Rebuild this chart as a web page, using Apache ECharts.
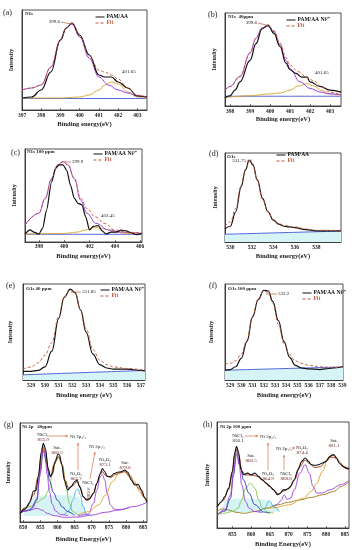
<!DOCTYPE html>
<html><head><meta charset="utf-8">
<script src="https://cdn.jsdelivr.net/npm/echarts@6/dist/echarts.min.js"></script>
<style>html,body{margin:0;padding:0;background:#fff}#c{width:355px;height:550px}</style>
</head><body><div id="c"></div>
<script>
// ---------- tick labels ----------
const aTicks = [397, 398, 399, 400, 401, 402, 403];
const bTicks = [398, 399, 400, 401, 402, 403];
const cTicks = [398, 400, 402, 404, 406];
const dTicks = [530, 532, 534, 536, 538];
const eTicks = [529, 530, 531, 532, 533, 534, 535, 536, 537];
const fTicks = [529, 530, 531, 532, 533, 534, 535, 536, 537, 538, 539];
const gTicks = [850, 855, 860, 865, 870, 875, 880, 885];
const hTicks = [855, 860, 865, 870, 875, 880, 885];

// ---------- (a) N1s PAM/AA ----------
const aDataX = [397, 397.5, 398, 398.5, 399, 399.3, 399.6, 400, 400.5, 401, 401.3, 401.65, 402, 402.5, 403, 403.5];
const aDataY = [12, 13, 20, 38, 70, 82, 87, 75, 55, 35, 33, 33, 28, 22, 14, 13];
const aFitY  = [20, 22, 25, 43, 70, 82, 87, 74, 54, 40, 38, 35, 31, 22, 15, 13];
const aP1X = [397, 397.5, 398, 398.5, 399, 399.3, 399.6, 400, 400.5, 401, 401.5, 402, 402.5, 403, 403.5];
const aP1Y = [20, 22, 25, 43, 70, 82, 86, 73, 52, 33, 25, 20, 17, 14, 13];
const aP2X = [397, 399, 400, 400.5, 401, 401.3, 401.65, 402, 402.5, 403, 403.5];
const aP2Y = [12, 12, 13, 15, 20, 25, 28, 26, 18, 13, 12];
const aBaseX = [397, 403.5];
const aBaseY = [11.5, 11.5];

// ---------- (b) N1s 40ppm ----------
const bDataX = [397.75, 398, 398.25, 398.5, 399, 399.3, 399.6, 399.9, 400.2, 400.5, 400.8, 401, 401.3, 401.6, 401.85, 402, 402.5, 403, 403.55];
const bDataY = [9, 11, 17, 26, 49, 67, 83, 87, 78, 64, 46, 39, 35, 31, 31, 26, 21, 17, 15];
const bFitX = [397.75, 398, 398.5, 399, 399.3, 399.6, 399.9, 400.2, 400.5, 400.8, 401, 401.4, 401.85, 402.2, 402.6, 403, 403.55];
const bFitY = [17, 21, 32, 57, 73, 84, 87, 81, 68, 52, 44, 37, 31, 27, 20, 15, 12];
const bP1X = [397.75, 398, 398.5, 399, 399.3, 399.6, 399.9, 400.2, 400.5, 400.8, 401, 401.5, 402, 402.5, 403, 403.55];
const bP1Y = [17, 21, 31.5, 57, 73, 83.5, 86, 80, 66, 49, 40, 26, 19, 15, 13, 12];
const bP2X = [397.75, 399, 400, 400.5, 401, 401.4, 401.85, 402.2, 402.6, 403, 403.55];
const bP2Y = [9, 11, 13, 14, 17, 21.5, 24, 21.5, 16.5, 13, 11.5];
const bBaseX = [397.75, 403.55];
const bBaseY = [10.5, 10.5];

// ---------- (c) N1s 100 ppm ----------
const cDataX = [396.9, 397.3, 397.6, 398, 398.3, 398.6, 399, 399.3, 399.6, 399.9, 400.2, 400.5, 400.8, 401.1, 401.4, 401.7, 402, 402.3, 402.7, 403, 403.3, 403.7, 404.1, 404.5, 404.9, 405.3, 405.7, 406.15];
const cDataY = [8.5, 13, 10.6, 8.5, 15, 34, 64.5, 79, 83, 83, 77, 61, 47, 41.5, 40, 27, 13, 16.7, 17.7, 12, 8.5, 10.6, 10.6, 12.8, 12, 10, 7.8, 9.2];
const cFitX = [396.9, 398, 398.5, 399, 399.5, 399.9, 400.3, 400.8, 401.3, 401.8, 402.45, 403.2, 404, 405, 406.15];
const cFitY = [18, 31, 47, 68, 83, 86, 83, 68.5, 47, 36, 27, 20, 13, 10.5, 9.5];
const cP1X = [396.9, 398, 398.5, 399, 399.5, 399.9, 400.3, 400.8, 401.3, 401.8, 402.5, 403.5, 404.5, 406.15];
const cP1Y = [18.4, 31, 47, 68, 83, 86.5, 83, 68, 45, 31, 20, 13, 10.6, 9.2];
const cP2X = [396.9, 400, 401, 401.7, 402.45, 403.2, 404, 405, 406.15];
const cP2Y = [8.5, 9.2, 10.6, 13, 15.6, 14, 10.6, 9.2, 8.5];
const cBaseX = [396.9, 406.15];
const cBaseY = [8.3, 8.3];

// ---------- (d) O1s PAM/AA ----------
const dDataX = [529.5, 530, 530.5, 531, 531.4, 531.75, 532.1, 532.5, 533, 533.5, 534, 534.5, 535, 535.5, 536, 537, 538, 539, 540.3];
const dDataY = [15, 17.7, 34, 62, 81, 92, 87, 70, 49, 34, 24.5, 20, 17.7, 17, 16.2, 14, 12.5, 12.5, 12.5];
const dFitX = [529.5, 530, 530.5, 531, 531.4, 531.75, 532.1, 532.5, 533, 533.5, 534, 534.5, 535, 536, 537, 538, 540.3];
const dFitY = [17.7, 22.6, 37.7, 64, 80, 90.5, 85.7, 69, 48, 34, 25, 20.8, 18.5, 17, 14.7, 13.2, 12.5];
const dBaseX = [529.5, 540.3];
const dBaseY = [8.7, 12.3];

// ---------- (e) O1s 40 ppm ----------
const eDataX = [528.4, 529, 529.5, 530, 530.5, 531, 531.4, 531.85, 532.2, 532.6, 533, 533.5, 534, 534.5, 535, 536, 537, 537.3];
const eDataY = [9, 9, 10, 13.6, 30, 64, 86, 94.6, 91, 73, 50, 27, 16, 12.5, 11.4, 11.4, 10, 9.6];
const eFitX = [528.4, 529, 529.5, 530, 530.5, 531, 531.4, 531.85, 532.2, 532.6, 533, 533.5, 534, 534.5, 535, 536, 537.3];
const eFitY = [11.4, 13.6, 17.9, 25.7, 39, 66, 86, 93.6, 90, 73, 53.6, 32, 20.7, 16, 13.6, 12, 10];
const eBaseX = [528.4, 537.3];
const eBaseY = [5.4, 10];

// ---------- (f) O1s 100 ppm ----------
const fDataX = [528.55, 529, 529.5, 530, 530.5, 531, 531.5, 532, 532.4, 532.8, 533.3, 533.8, 534.3, 534.8, 535.3, 536, 537, 537.5, 538, 539.05];
const fDataY = [10.2, 10.9, 13.8, 22.5, 40, 65.5, 83.6, 93.5, 92.7, 81.8, 61.8, 40, 23.6, 15.3, 12.7, 11.6, 10.9, 11.6, 12.4, 13.8];
const fFitX = [528.55, 529, 529.5, 530, 530.5, 531, 531.5, 532, 532.4, 532.8, 533.3, 533.8, 534.3, 534.8, 535.3, 536, 537, 538, 539.05];
const fFitY = [16.4, 17.5, 20, 27, 41.8, 67, 84.4, 92.7, 91, 80, 58, 38, 26, 20, 17.5, 15.3, 13.8, 13.1, 13.1];
const fBaseX = [528.55, 539.05];
const fBaseY = [10.2, 13.6];

// ---------- (g) Ni 2p 40ppm ----------
const gDataX = [849.1, 850.5, 852, 853, 853.8, 854.5, 855.3, 855.9, 856.5, 857.3, 858, 858.5, 859.3, 860.2, 860.6, 861.3, 862, 863, 864, 865, 865.7, 866.5, 867.5, 868.5, 869.5, 870.5, 871.5, 872.5, 873.1, 873.8, 874.5, 875.5, 876.5, 877.5, 878.5, 879.6, 880.5, 881.5, 882.5, 883.5, 884.5, 885.5, 886.1];
const gDataY = [8.8, 13, 20, 31, 32, 47.5, 71, 79.5, 74.4, 54.2, 45.8, 49, 61, 68.4, 67.7, 57.6, 42.4, 32.3, 35.7, 40.7, 42.4, 35.7, 25.6, 22.2, 23.9, 29, 39, 49, 54, 51, 46, 46, 49, 50.2, 50.8, 52.5, 50.2, 42.4, 37.4, 38, 32.3, 23.9, 19.9];
const gFitX = [849.1, 851, 853, 854.5, 855.3, 855.9, 856.5, 857.3, 858, 859, 860.3, 861.3, 862.3, 863.3, 864.5, 865.7, 866.7, 867.7, 869, 870.5, 871.5, 872.5, 873.1, 874, 875.5, 877, 878.5, 879.6, 881, 882.5, 884, 885.3, 886.1];
const gFitY = [10, 15, 27, 46, 68, 76, 71, 52, 46, 58, 66, 58, 42, 34, 37, 41, 34, 25, 22, 29, 39, 48, 51, 47, 45, 48, 50, 51, 46, 39, 33, 25, 22];
const gP1X = [849.1, 851, 853, 854, 854.8, 855.4, 855.9, 856.4, 857, 857.7, 858.5, 859.5, 861, 863];
const gP1Y = [10, 11, 15, 24, 45, 66, 74.4, 68, 48, 30, 18, 11, 7.5, 6.5];
const gBlueX = [849.1, 852, 854, 855, 855.9, 856.8, 857.8, 858.8, 860, 861.5, 863, 865];
const gBlueY = [9, 12, 22, 50, 72, 60, 41, 30, 22, 15, 10.5, 6.5];
const gGreenX = [849.1, 852, 854, 856, 857.5, 858.5, 859.5, 860.5, 861.5, 862.5, 863.5, 864.5, 866];
const gGreenY = [9, 15.5, 19.9, 23.9, 32.3, 47.5, 61, 66, 57.6, 35.7, 18.9, 10.4, 7];
const gCyanX = [862, 863.5, 864.5, 865.5, 866, 866.7, 867.5, 868.5, 870];
const gCyanY = [7, 12, 22.2, 32.3, 33.3, 27, 15.5, 7.7, 6];
const gP2X = [866, 869, 870.5, 871.5, 872.5, 873.1, 873.8, 874.5, 875.5, 876.5, 878, 881];
const gP2Y = [6, 8, 18.9, 32.3, 45.8, 48, 42.4, 29, 17, 13, 12.5, 14.5];
const gOrX = [866, 869, 872, 874, 876, 878, 879.6, 881, 882.5, 884, 885, 886.1];
const gOrY = [7, 10.4, 17.2, 27, 40.7, 49, 50.8, 48, 40.7, 30.6, 25.6, 22.2];
const gBaseX = [849.1, 852, 854, 855.5, 857, 859, 862, 866, 870, 874, 878, 882, 886.1];
const gBaseY = [9.8, 12.1, 13.8, 12.1, 8.8, 6.4, 4.7, 5, 7, 9.8, 12.1, 15.5, 19.9];
const gFillX = [850.3, 851.5, 853, 858, 863, 866, 867.5, 868.5];
const gFillY = [9, 18, 26, 27, 27, 25, 18, 7];

// ---------- (h) Ni 2p 100 ppm ----------
const hDataX = [850.9, 852, 853, 854, 855, 855.6, 856.1, 856.6, 857.3, 858, 859, 860, 861, 862, 863, 864, 865, 866, 867, 867.8, 868.5, 869.2, 869.8, 870.5, 871.5, 872.5, 873.5, 874.4, 875.3, 876, 877, 878, 879, 880, 881, 882, 882.8, 883.5, 884.5, 885.5, 886.1];
const hDataY = [20, 24.3, 29.7, 37.6, 53.4, 70.8, 77.1, 72.4, 55, 50.2, 51.8, 50.2, 51.8, 48.7, 45.5, 42.3, 39.2, 36, 31.3, 32.8, 36, 36, 37, 39.2, 45.5, 55, 62.9, 66, 62.9, 59.7, 59, 59.7, 61.3, 62.9, 67.6, 69.2, 66, 61.3, 58.1, 56.5, 56];
const hFitX = [850.9, 852.5, 854, 855, 855.6, 856.1, 856.7, 857.5, 858.5, 860, 861.5, 863, 864.5, 866, 867.3, 868.8, 870, 871.5, 873, 874.4, 875.5, 877, 878.5, 880, 881.3, 882.5, 884, 885.3, 886.1];
const hFitY = [19, 26, 36, 52, 68, 74, 69, 54, 50, 50, 49, 45, 41, 36, 32, 35, 37, 45, 58, 64, 61, 57, 58, 63, 67, 66, 60, 56, 55];
const hP1X = [850.9, 853, 854.5, 855.3, 856.1, 856.8, 857.5, 858.5, 859.5, 861, 863];
const hP1Y = [12.3, 17, 31.3, 53.4, 74, 59.7, 40.8, 25, 18.6, 15.5, 14.5];
const hBlueX = [850.9, 853, 854.5, 855.3, 856.1, 857, 858, 859.4, 861, 863.4, 865];
const hBlueY = [12.3, 16, 28, 50, 70, 60, 45, 33, 22, 15, 14];
const hGreenX = [850.9, 853, 855, 856.5, 857.5, 858.5, 859.8, 861, 862, 863, 864.5, 866];
const hGreenY = [12.5, 14, 15.5, 18.6, 26.5, 37.6, 42.3, 37.6, 26.5, 18.6, 14.8, 14];
const hCyanX = [862, 863.5, 864.9, 866, 867.5];
const hCyanY = [14.5, 18.6, 25.6, 20.2, 15.5];
const hP2X = [866, 867, 868, 868.8, 869.6, 870.5, 871.5, 873, 874.4, 875.5, 876.5, 877.5, 879, 881, 884, 886.1];
const hP2Y = [20, 22.4, 26, 31.3, 27, 28.1, 36, 51.8, 59.7, 51.8, 39.2, 33, 33, 36, 41, 45];
const hOrX = [864, 866, 870, 874, 876, 877.5, 879, 880.5, 881.5, 882.5, 883.5, 885, 886.1];
const hOrY = [18.6, 19, 21.8, 28.1, 34.4, 42.3, 53.4, 66, 69.2, 67.6, 62.9, 56.5, 55];
const hBaseX = [850.9, 852.5, 854, 856, 858, 861, 864, 867, 870, 873, 876, 879, 882, 884, 886.1];
const hBaseY = [15.5, 18, 17, 14.8, 13.9, 15.5, 18.6, 21.8, 24.3, 26.5, 28.8, 31.3, 34.4, 39.2, 44];
const hFillX = [852, 853.3, 858, 864, 866.3, 867.5];
const hFillY = [16, 27, 28, 27, 22, 16];

// ---------- build ----------
const FF = '"Liberation Serif","Times New Roman",serif';
const C = {black:'#111', fit:'#c0563a', purple:'#a23fdc', orange:'#d9a22c', blue:'#3f58d8',
           green:'#7cc846', cyan:'#45b4e2', dblue:'#2a3aa8', brown:'#9a7a1a', fill:'#d6f3f6'};
const zip = (xs, ys) => xs.map((x, i) => [x, ys[i]]);

const panels = [
  {grid:{left:22, top:10, width:125, height:100}, min:397, max:403.5, ticks:aTicks, xname:'Binding energy(eV)', yGap:8, xGap:11, lm:3},
  {grid:{left:225, top:13, width:116, height:93}, min:397.75, max:403.55, ticks:bTicks, xname:'Binding energy(eV)', yGap:8, xGap:10, lm:3},
  {grid:{left:25, top:149, width:117, height:93}, min:396.9, max:406.15, ticks:cTicks, xname:'Binding energy(eV)', yGap:8, xGap:11, lm:2},
  {grid:{left:225, top:153, width:116, height:89}, min:529.5, max:540.3, ticks:dTicks, xname:'Binding energy(eV)', yGap:7, xGap:11, lm:3},
  {grid:{left:23, top:284, width:122, height:96}, min:528.4, max:537.3, ticks:eTicks, xname:'Binding energy (eV)', yGap:10, xGap:12, lm:3},
  {grid:{left:225, top:284, width:118, height:96}, min:528.55, max:539.05, ticks:fTicks, xname:'Binding energy(eV)', yGap:11, xGap:12, lm:3},
  {grid:{left:20, top:423, width:127, height:99}, min:849.1, max:886.1, ticks:gTicks, xname:'Binding Energy(eV)', yGap:9, xGap:14, lm:3},
  {grid:{left:217, top:422, width:132, height:106}, min:850.9, max:886.1, ticks:hTicks, xname:'Binding Energy(eV)', yGap:7, xGap:13, lm:4}
];

const grid = [], xAxis = [], yAxis = [];
panels.forEach((p, i) => {
  grid.push(Object.assign({show:true, borderColor:'#222', borderWidth:0.8, backgroundColor:'transparent'}, p.grid));
  xAxis.push({type:'value', gridIndex:i, min:p.min, max:p.max,
    axisLine:{show:true, lineStyle:{color:'#222', width:0.8}},
    axisTick:{show:true, inside:true, length:2, customValues:p.ticks, lineStyle:{color:'#222', width:0.6}},
    axisLabel:{customValues:p.ticks, fontSize:5.5, fontWeight:'bold', fontFamily:FF, color:'#222', margin:p.lm},
    splitLine:{show:false},
    name:p.xname, nameLocation:'middle', nameGap:p.xGap,
    nameTextStyle:{fontSize:6.5, fontWeight:'bold', fontFamily:FF, color:'#222'}});
  yAxis.push({type:'value', gridIndex:i, min:0, max:100,
    axisLine:{show:true, lineStyle:{color:'#222', width:0.8}},
    axisTick:{show:false}, axisLabel:{show:false}, splitLine:{show:false},
    name:'Intensity', nameLocation:'middle', nameGap:p.yGap, nameRotate:90,
    nameTextStyle:{fontSize:6, fontWeight:'bold', fontFamily:FF, color:'#222'}});
});

function L(g, name, xs, ys, color, w, dash, extra) {
  return Object.assign({type:'line', xAxisIndex:g, yAxisIndex:g, name:name, data:zip(xs, ys),
    symbol:'none', smooth:0.4, smoothMonotone:'x', silent:true, z:2,
    lineStyle:{color:color, width:w, type:dash ? [3, 2] : 'solid'}, itemStyle:{color:color}}, extra || {});
}
const NI = 'PAM/AA Ni²⁺';
const series = [
  // (a)
  L(0, 'bgA', aBaseX, aBaseY, C.blue, 0.9),
  L(0, 'p2a', aP2X, aP2Y, C.orange, 0.9),
  L(0, 'p1a', aP1X, aP1Y, C.purple, 1),
  L(0, 'PAM/AA', aDataX, aDataY, C.black, 1.2),
  L(0, 'Fit', aDataX, aFitY, C.fit, 0.9, true),
  // (b)
  L(1, 'bgB', bBaseX, bBaseY, C.blue, 0.9),
  L(1, 'p2b', bP2X, bP2Y, C.orange, 0.9),
  L(1, 'p1b', bP1X, bP1Y, C.purple, 1),
  L(1, NI, bDataX, bDataY, C.black, 1.2),
  L(1, 'Fit', bFitX, bFitY, C.fit, 0.9, true),
  // (c)
  L(2, 'bgC', cBaseX, cBaseY, C.blue, 0.9),
  L(2, 'p2c', cP2X, cP2Y, C.orange, 0.9),
  L(2, 'p1c', cP1X, cP1Y, C.purple, 1),
  L(2, NI, cDataX, cDataY, C.black, 1.2, false, {smooth:0.25}),
  L(2, 'Fit', cFitX, cFitY, C.fit, 0.9, true),
  // (d)
  L(3, 'bgD', dBaseX, dBaseY, C.blue, 0.9, false, {areaStyle:{color:C.fill, origin:'start', opacity:1}}),
  L(3, 'PAM/AA', dDataX, dDataY, C.black, 1.2),
  L(3, 'Fit', dFitX, dFitY, C.fit, 0.9, true),
  // (e)
  L(4, 'bgE', eBaseX, eBaseY, C.blue, 0.9, false, {areaStyle:{color:C.fill, origin:'start', opacity:1}}),
  L(4, NI, eDataX, eDataY, C.black, 1.2),
  L(4, 'Fit', eFitX, eFitY, C.fit, 0.9, true),
  // (f)
  L(5, 'bgF', fBaseX, fBaseY, C.blue, 0.9, false, {areaStyle:{color:C.fill, origin:'start', opacity:1}}),
  L(5, NI, fDataX, fDataY, C.black, 1.2),
  L(5, 'Fit', fFitX, fFitY, C.fit, 0.9, true),
  // (g)
  L(6, 'fillG', gFillX, gFillY, C.fill, 0, false, {areaStyle:{color:C.fill, origin:6, opacity:1}, z:1}),
  L(6, 'bgG', gBaseX, gBaseY, C.purple, 0.9),
  L(6, 'greenG', gGreenX, gGreenY, C.green, 0.9),
  L(6, 'cyanG', gCyanX, gCyanY, C.cyan, 0.9),
  L(6, 'blueG', gBlueX, gBlueY, C.dblue, 0.9),
  L(6, 'p1g', gP1X, gP1Y, C.purple, 0.9),
  L(6, 'p2g', gP2X, gP2Y, C.purple, 0.9),
  L(6, 'orG', gOrX, gOrY, C.orange, 0.9),
  L(6, 'fitG', gFitX, gFitY, '#b0452a', 1),
  L(6, 'dataG', gDataX, gDataY, C.black, 1.1, false, {smooth:0.3}),
  // (h)
  L(7, 'fillH', hFillX, hFillY, C.fill, 0, false, {areaStyle:{color:C.fill, origin:15, opacity:1}, z:1}),
  L(7, 'bgH', hBaseX, hBaseY, C.brown, 0.9),
  L(7, 'greenH', hGreenX, hGreenY, C.green, 0.9),
  L(7, 'cyanH', hCyanX, hCyanY, C.cyan, 0.9),
  L(7, 'blueH', hBlueX, hBlueY, C.dblue, 0.9),
  L(7, 'p1h', hP1X, hP1Y, C.purple, 0.9),
  L(7, 'p2h', hP2X, hP2Y, C.purple, 0.9),
  L(7, 'orH', hOrX, hOrY, C.orange, 0.9),
  L(7, 'fitH', hFitX, hFitY, '#b0452a', 1),
  L(7, 'dataH', hDataX, hDataY, C.black, 1.1, false, {smooth:0.3})
];

function legend(left, top, dataName) {
  return {left:left, top:top, orient:'vertical', itemWidth:9, itemHeight:4, itemGap:0, padding:0,
    selectedMode:false,
    itemStyle:{color:'rgba(0,0,0,0)', borderWidth:0, opacity:0},
    lineStyle:{width:1},
    textStyle:{fontSize:5.5, fontWeight:'bold', fontFamily:FF, color:'#111', lineHeight:5, padding:[0,0,0,-3]},
    data:[{name:dataName}, {name:'Fit', textStyle:{color:C.fit}}]};
}
const legends = [
  legend(95, 14, 'PAM/AA'), legend(286, 17, NI), legend(93, 151, NI),
  legend(276, 152, 'PAM/AA'), legend(100, 287, NI), legend(302, 290, NI)
];

// ---------- annotation text / arrows ----------
const G = [];
function T(x, y, text, o) {
  o = o || {};
  G.push({type:'text', x:x, y:y, rotation:o.rot || 0, silent:true, z:100,
    style:{text:text, fill:o.color || '#222', fontSize:o.size || 5, fontFamily:FF,
      fontWeight:o.bold ? 'bold' : 'normal', align:o.align || 'center', verticalAlign:'middle'}});
}
function Ln(x1, y1, x2, y2, c) {
  G.push({type:'line', silent:true, z:100, shape:{x1:x1, y1:y1, x2:x2, y2:y2}, style:{stroke:c || C.fit, lineWidth:0.7}});
}
function Ar(x1, y1, x2, y2, c) {
  c = c || '#e0704a';
  Ln(x1, y1, x2, y2, c);
  const a = Math.atan2(y2 - y1, x2 - x1), h = 2.6;
  G.push({type:'polygon', silent:true, z:100, shape:{points:[[x2, y2],
    [x2 - h * Math.cos(a - 0.45), y2 - h * Math.sin(a - 0.45)],
    [x2 - h * Math.cos(a + 0.45), y2 - h * Math.sin(a + 0.45)]]}, style:{fill:c}});
}
// panel letters
[['(a)', 3, 13], ['(b)', 208, 15], ['(c)', 11, 153], ['(d)', 209, 154],
 ['(e)', 6, 286], ['(f)', 209, 286], ['(g)', 4, 425], ['(h)', 203, 425]].forEach(l =>
  T(l[1], l[2], l[0], {size:8, align:'left'}));
// panel titles
[['N1s', 25, 14], ['N1s  40ppm', 228, 17], ['N1s 100 ppm', 27, 152], ['O1s', 227, 157],
 ['O1s 40 ppm', 26, 289], ['O1s 100 ppm', 228, 289], ['Ni 2p   40ppm', 22, 427], ['Ni 2p 100 ppm', 220, 427]].forEach(l =>
  T(l[1], l[2], l[0], {size:5, align:'left', bold:true}));
// N1s / O1s peak labels
T(60, 22, '399.6', {align:'right'}); Ln(61, 22, 71, 24);
T(122, 72, '401.65', {align:'left'});
T(257, 23, '399.6', {align:'right'}); Ln(258, 23, 266, 25);
T(315, 73, '401.65', {align:'left'});
Ln(64, 162, 71, 162); T(72, 162, '399.9', {align:'left'});
T(101, 216, '402.45', {align:'left'});
T(246, 161, '531.75', {align:'right'}); Ln(247, 161, 252, 160);
Ln(71, 292, 81, 292); T(82, 292, '531.85', {align:'left'});
Ln(266, 294, 277, 294); T(278, 294, '532.2', {align:'left'});
// (g) labels
const NC = '#6a1c1c';
T(43, 435, 'NiCl₂'); T(43, 440, '855.9', {color:NC});
Ar(49, 436, 68, 436); T(70, 437, 'Ni 2p₃/₂', {align:'left'});
Ar(78, 470, 78, 443);
T(57, 448, 'Sat.'); T(57, 453, '860.5', {color:NC});
T(76, 474, 'Ni₂O₃'); T(76, 479, '865.7', {color:NC});
T(97, 447, 'Ni 2p₁/₂');
Ar(90, 479, 95, 452);
T(88, 483, 'NiCl₂'); T(89, 493, '869.6', {color:NC, rot:Math.PI / 2});
T(105, 460, 'Ni₂O₃'); T(105, 465, '873.1', {color:NC});
T(125, 463, 'Sat.'); T(125, 468, '879.6', {color:NC});
// (h) labels
T(238, 436, 'NiCl₂'); T(238, 441, '856.1');
Ar(245, 436, 258, 436); T(260, 437, 'Ni 2p₃/₂', {align:'left'});
Ar(268, 470, 268, 443);
T(251, 456, 'Sat.'); T(251, 461, '860.5', {color:NC});
T(268, 474, 'Ni₂O₃'); T(268, 479, '864.9', {color:NC});
T(284, 449, 'Ni 2p₁/₂'); Ar(292, 448, 295, 448);
T(302, 448, 'Ni₂O₃'); T(302, 453, '874.4', {color:NC});
Ar(284, 470, 284, 455);
T(286, 474, 'NiCl₂'); T(286, 479, '868.8', {color:NC});
T(334, 441, 'Sat.'); T(334, 446, '881.1', {color:NC});

const chart = echarts.init(document.getElementById('c'), null, {renderer:'canvas'});
chart.setOption({
  animation:false, backgroundColor:'#fff',
  textStyle:{fontFamily:FF},
  grid:grid, xAxis:xAxis, yAxis:yAxis, legend:legends, series:series, graphic:G
});
</script></body></html>
